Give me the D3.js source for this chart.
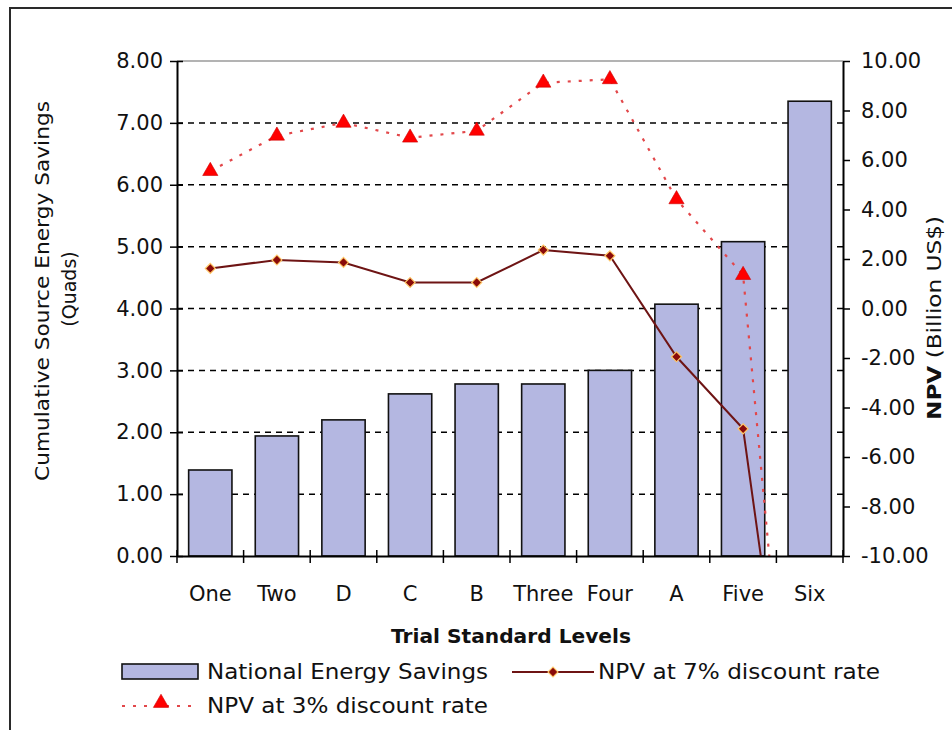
<!DOCTYPE html>
<html>
<head>
<meta charset="utf-8">
<script src="https://cdn.jsdelivr.net/npm/d3@7"></script>
<style>
  html, body { margin: 0; padding: 0; background: #fff; }
  svg text { font-family: "DejaVu Sans", "Liberation Sans", sans-serif; fill: #111; }
</style>
</head>
<body>
<svg id="chart" width="952" height="730"></svg>
<script>
// ---- data ----
const categories = ["One", "Two", "D", "C", "B", "Three", "Four", "A", "Five", "Six"];
const energySavings = [1.39, 1.94, 2.20, 2.62, 2.78, 2.78, 3.00, 4.07, 5.08, 7.35];
const npv7 = [1.62, 1.96, 1.86, 1.05, 1.05, 2.36, 2.13, -1.95, -4.86, -24.2];
const npv3 = [5.55, 6.98, 7.50, 6.90, 7.18, 9.12, 9.26, 4.41, 1.35, -27.5];
const leftTicks = [0, 1, 2, 3, 4, 5, 6, 7, 8];
const rightTicks = [-10, -8, -6, -4, -2, 0, 2, 4, 6, 8, 10];
const gridValues = [1, 2, 3, 4, 5, 6, 7];
const legendLabels = ["National Energy Savings", "NPV at 7% discount rate", "NPV at 3% discount rate"];

const svg = d3.select("#chart");
const L = 177, R = 843, T = 61, B = 556;

const x = d3.scaleBand().domain(categories).range([L, R]).paddingInner(0.35).paddingOuter(0.175);
const yL = d3.scaleLinear().domain([0, 8]).range([B, T]);
const yR = d3.scaleLinear().domain([-10, 10]).range([B, T]);

// frame
svg.append("rect").attr("x", 10).attr("y", 8).attr("width", 960).attr("height", 760)
  .attr("fill", "none").attr("stroke", "#2a2a2a").attr("stroke-width", 2);

// plot top border
svg.append("line").attr("x1", L).attr("x2", R).attr("y1", T).attr("y2", T)
  .attr("stroke", "#9a9a9a").attr("stroke-width", 1.5);

// gridlines
svg.append("g").selectAll("line").data(gridValues).join("line")
  .attr("x1", L).attr("x2", R).attr("y1", d => yL(d)).attr("y2", d => yL(d))
  .attr("stroke", "#000").attr("stroke-width", 1.5).attr("stroke-dasharray", "6,5");

// bars
svg.append("g").selectAll("rect").data(categories).join("rect")
  .attr("x", d => x(d)).attr("width", x.bandwidth())
  .attr("y", (d, i) => yL(energySavings[i]))
  .attr("height", (d, i) => yL(0) - yL(energySavings[i]))
  .attr("fill", "#b4b7e1").attr("stroke", "#111").attr("stroke-width", 1.6);

// clip
svg.append("clipPath").attr("id", "clip").append("rect")
  .attr("x", L).attr("y", T - 10).attr("width", R - L).attr("height", B - T + 10);

const cx = d => x(d) + x.bandwidth() / 2;

const lineGen = d3.line().x((d, i) => cx(categories[i])).y(d => yR(d));
const g = svg.append("g").attr("clip-path", "url(#clip)");
// 3% line
g.append("path").datum(npv3).attr("d", lineGen)
  .attr("fill", "none").attr("stroke", "#e2474a").attr("stroke-width", 2.2)
  .attr("stroke-dasharray", "3,8");
// 7% line
g.append("path").datum(npv7).attr("d", lineGen)
  .attr("fill", "none").attr("stroke", "#6e1414").attr("stroke-width", 2);

const tri = d3.symbol().type(d3.symbolTriangle).size(100);
const dia = d3.symbol().type(d3.symbolSquare).size(50);

g.selectAll(".t3").data(npv3).join("path").attr("class", "t3")
  .attr("d", tri)
  .attr("transform", (d, i) => `translate(${cx(categories[i])},${yR(d)})`)
  .attr("fill", "#ff0000").attr("stroke", "#cc0000").attr("stroke-width", 0.6);

g.selectAll(".d7").data(npv7).join("path").attr("class", "d7")
  .attr("d", dia)
  .attr("transform", (d, i) => `translate(${cx(categories[i])},${yR(d)}) rotate(45)`)
  .attr("fill", "#8a0a0a").attr("stroke", "#ffc766").attr("stroke-width", 1.2);

// left axis
const axL = svg.append("g").attr("transform", `translate(${L},0)`)
  .call(d3.axisLeft(yL).tickValues(leftTicks).tickSizeInner(7).tickSizeOuter(0).tickPadding(7)
    .tickFormat(d => d.toFixed(2)));
axL.select(".domain").attr("stroke", "#000").attr("stroke-width", 2);
axL.selectAll(".tick line").attr("x1", 6).attr("stroke", "#000").attr("stroke-width", 1.5);
axL.selectAll(".tick text").attr("font-size", 21).style("font-family", "DejaVu Sans");

// right axis
const axR = svg.append("g").attr("transform", `translate(${R},0)`)
  .call(d3.axisRight(yR).tickValues(rightTicks).tickSizeInner(7).tickSizeOuter(0).tickPadding(11)
    .tickFormat(d => d.toFixed(2)));
axR.select(".domain").attr("stroke", "#000").attr("stroke-width", 2);
axR.selectAll(".tick line").attr("stroke", "#000").attr("stroke-width", 1.5);
axR.selectAll(".tick text").attr("font-size", 21).style("font-family", "DejaVu Sans");

// x axis
const axX = svg.append("g").attr("transform", `translate(0,${B})`)
  .call(d3.axisBottom(x).tickSize(0).tickPadding(30));
axX.select(".domain").attr("stroke", "#000").attr("stroke-width", 2);
axX.selectAll(".tick text").attr("font-size", 21).style("font-family", "DejaVu Sans");
const boundaries = categories.map(c => x(c) - (x.step() - x.bandwidth()) / 2).concat([R]);
axX.append("g").selectAll("line").data(boundaries).join("line")
  .attr("x1", d => d).attr("x2", d => d).attr("y1", -6).attr("y2", 7)
  .attr("stroke", "#000").attr("stroke-width", 1.5);

// axis titles
svg.append("text").attr("transform", "translate(49,291) rotate(-90)")
  .attr("text-anchor", "middle").attr("font-size", 19)
  .attr("textLength", 380).attr("lengthAdjust", "spacingAndGlyphs")
  .text("Cumulative Source Energy Savings");
svg.append("text").attr("transform", "translate(76,289) rotate(-90)")
  .attr("text-anchor", "middle").attr("font-size", 19).text("(Quads)");
const rt = svg.append("text").attr("transform", "translate(941,318) rotate(-90)")
  .attr("text-anchor", "middle").attr("font-size", 19)
  .attr("textLength", 204).attr("lengthAdjust", "spacingAndGlyphs");
rt.append("tspan").attr("font-weight", "bold").text("NPV");
rt.append("tspan").text(" (Billion US$)");

svg.append("text").attr("x", 511).attr("y", 643).attr("text-anchor", "middle")
  .attr("font-size", 19).attr("font-weight", "bold")
  .attr("textLength", 240).attr("lengthAdjust", "spacingAndGlyphs")
  .text("Trial Standard Levels");

// legend
const lg = svg.append("g");
lg.append("rect").attr("x", 122).attr("y", 664).attr("width", 76).attr("height", 15)
  .attr("fill", "#b4b7e1").attr("stroke", "#111").attr("stroke-width", 1.6);
lg.append("text").attr("x", 207).attr("y", 679).attr("font-size", 21)
  .attr("textLength", 281).attr("lengthAdjust", "spacingAndGlyphs").text(legendLabels[0]);

lg.append("line").attr("x1", 512).attr("x2", 594).attr("y1", 672).attr("y2", 672)
  .attr("stroke", "#6e1414").attr("stroke-width", 2);
lg.append("path").attr("d", dia)
  .attr("transform", "translate(553,672) rotate(45)")
  .attr("fill", "#8a0a0a").attr("stroke", "#ffc766").attr("stroke-width", 1.2);
lg.append("text").attr("x", 598).attr("y", 679).attr("font-size", 21)
  .attr("textLength", 282).attr("lengthAdjust", "spacingAndGlyphs").text(legendLabels[1]);

lg.append("line").attr("x1", 122).attr("x2", 196).attr("y1", 706).attr("y2", 706)
  .attr("stroke", "#e2474a").attr("stroke-width", 2).attr("stroke-dasharray", "3,8");
lg.append("path").attr("d", tri).attr("transform", "translate(161,703)")
  .attr("fill", "#ff0000").attr("stroke", "#cc0000").attr("stroke-width", 0.6);
lg.append("text").attr("x", 207).attr("y", 713).attr("font-size", 21)
  .attr("textLength", 281).attr("lengthAdjust", "spacingAndGlyphs").text(legendLabels[2]);
</script>
</body>
</html>
